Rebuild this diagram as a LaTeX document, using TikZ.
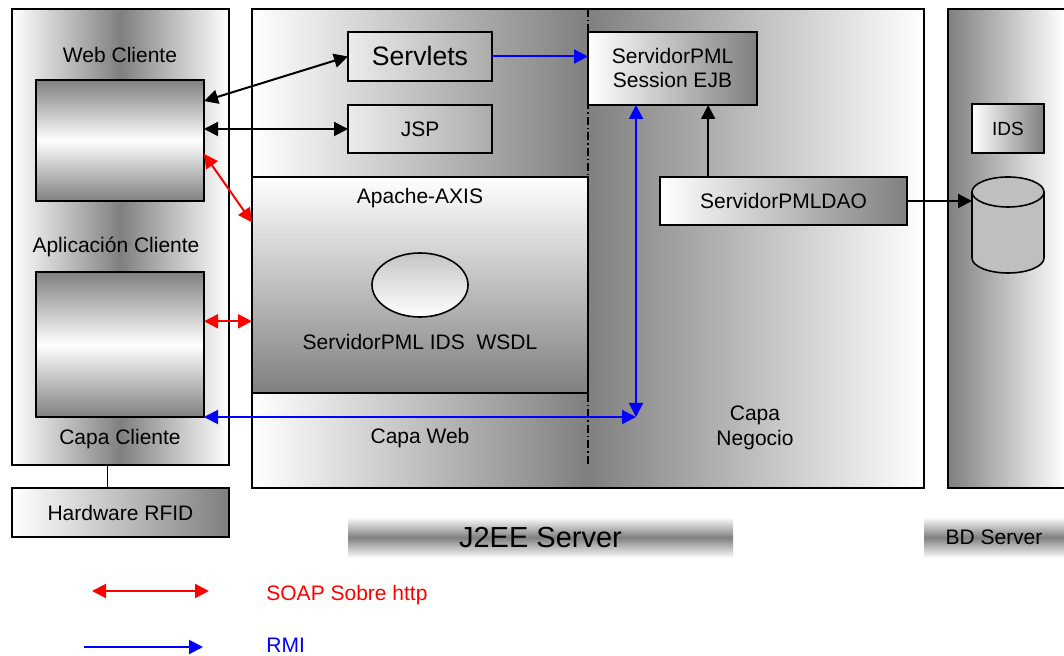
\documentclass[tikz,border=0pt]{standalone}
\usepackage{fontspec}
\setmainfont{Liberation Sans}
\usetikzlibrary{arrows.meta,calc,shapes.geometric}
\begin{document}
\begin{tikzpicture}[x=0.5pt,y=-0.5pt,
  >={Triangle[length=7pt,width=7pt]},
  box/.style={draw=black,line width=0.8pt,inner sep=0pt,outer sep=0pt},
  lbl/.style={font=\fontsize{10.5}{12.6}\selectfont,inner sep=0pt},
  blk/.style={line width=1pt,draw=black},
  soap/.style={line width=1pt,draw=red},
  rmi/.style={line width=1pt,draw=blue},
  band/.style={inner sep=0pt,top color=white,bottom color=white,middle color=gray},
  fadeR/.style={left color=white,right color=gray},
  vgrad/.style={top color=gray,bottom color=gray,middle color=white},
  hgrad/.style={left color=white,right color=white,middle color=gray},
  lightbox/.style={left color=gray!15,right color=gray!65},
]
\useasboundingbox (0,0) rectangle (1064,656);

% Capa Cliente
\node[box,hgrad,minimum width=108.5pt,minimum height=228pt] (cc) at (120.5,237) {};
\node[lbl] (cclbl1) at (120,55) {Web Cliente};
\node[lbl] (cclbl2) at (116,247) {Aplicación Cliente};
\node[lbl] (cclbl3) at (120,439) {Capa Cliente};
\node[box,vgrad,minimum width=84pt,minimum height=60.5pt] (web) at (120,140.5) {};
\node[box,vgrad,minimum width=84pt,minimum height=72.5pt] (app) at (120,344.5) {};
\node[box,fadeR,lbl,minimum width=108.5pt,minimum height=24.5pt] (hw) at (120.5,512.5) {Hardware RFID};
\coordinate (hwL) at ($(cc.south west)!0.44!(cc.south east)$);
\draw[line width=0.8pt] (hwL) -- (hwL |- hw.north);

% J2EE
\node[box,hgrad,minimum width=336pt,minimum height=239.5pt] (j2ee) at (588,248.5) {};
\coordinate (dde) at (588,465);
\draw[line width=0.6pt,dash pattern=on 4pt off 1.5pt on 0.7pt off 1.5pt] (j2ee.north) -- (dde);
\node[box,lightbox,minimum width=72pt,minimum height=24.5pt,font=\fontsize{13.3}{16}\selectfont] (servlets) at (420,56.5) {Servlets};
\node[box,lightbox,lbl,minimum width=72pt,minimum height=24pt] (jsp) at (420,129) {JSP};
\node[box,top color=white,bottom color=gray,minimum width=168pt,minimum height=108pt] (axis) at (420,285) {};
\node[lbl] (axislbl) at (420,198) {Apache-AXIS};
\node[ellipse,draw,line width=0.8pt,top color=gray!45,bottom color=white,minimum width=48pt,minimum height=32pt,inner sep=0pt] (wsdl) at (420,285) {};
\node[lbl] (wsdllbl) at (420,342) {ServidorPML IDS\ \ WSDL};
\node[lbl] (capaweb) at (420,438) {Capa Web};
\node[lbl,align=center,font=\fontsize{10.5}{12.5}\selectfont] (negocio) at (755,428) {Capa\\Negocio};
\node[box,fadeR,lbl,align=center,font=\fontsize{10.5}{12}\selectfont,minimum width=84.5pt,minimum height=36.5pt] (ejb) at (672.5,68.5) {ServidorPML\\Session EJB};
\node[box,fadeR,lbl,minimum width=123.5pt,minimum height=24pt] (dao) at (783.5,201) {ServidorPMLDAO};

% BD Server
\path[left color=gray,right color=white] (948,9) rectangle (1064,488);
\draw[line width=0.8pt] (1064,9) -- (948,9) -- (948,488) -- (1064,488);
\node[box,fadeR,font=\fontsize{9.5}{11}\selectfont,minimum width=36pt,minimum height=24.5pt] (ids) at (1008,128.5) {IDS};
\node[minimum width=36pt,minimum height=48pt,inner sep=0pt,outer sep=0pt] (db) at (1008,225) {};
\draw[line width=0.8pt,fill=gray!50] (972,192) -- (972,258) .. controls (972,266.28) and (988.12,273) .. (1008,273) .. controls (1027.88,273) and (1044,266.28) .. (1044,258) -- (1044,192) -- cycle;
\draw[line width=0.8pt,fill=gray!50] (1008,192) ellipse [x radius=18pt,y radius=7.5pt];

% bands
\node[band,font=\fontsize{14.5}{17}\selectfont,minimum width=192.5pt,minimum height=20.5pt] (j2eelbl) at (540.5,537.5) {J2EE Server};
\node[band,lbl,minimum width=70pt,minimum height=20.5pt] (bdlbl) at (994,537.5) {BD Server};

% connectors
\draw[blk,<->] ($(web.north east)!0.174!(web.south east)$) -- (servlets.west);
\draw[blk,<->] (web.east |- jsp.west) -- (jsp.west);
\draw[soap,<->] ($(web.north east)!0.61!(web.south east)$) -- ($(axis.north west)!0.21!(axis.south west)$);
\coordinate (appS) at ($(app.north east)!0.34!(app.south east)$);
\draw[soap,<->] (appS) -- (appS -| axis.west);
\draw[rmi,->] (servlets.east) -- (servlets.east -| ejb.west);
\coordinate (rmiC) at (636,417);
\draw[rmi,<->] (app.south east) -- (rmiC);
\draw[rmi,<->] (ejb.south -| rmiC) -- (rmiC);
\coordinate (daoU) at ($(dao.north west)!0.195!(dao.north east)$);
\draw[blk,->] (daoU) -- (daoU |- ejb.south);
\draw[blk,->] (dao.east) -- (dao.east -| db.west);

% legend
\coordinate (s1) at (92,591);
\coordinate (s2) at (209,591);
\draw[soap,<->] (s1) -- (s2);
\node[lbl,anchor=west,text=red] (soaplbl) at (266,595) {SOAP Sobre http};
\coordinate (r1) at (84,647);
\coordinate (r2) at (203,647);
\draw[rmi,->] (r1) -- (r2);
\node[lbl,anchor=west,text=blue] (rmilbl) at (266,645) {RMI};
\end{tikzpicture}
\end{document}
